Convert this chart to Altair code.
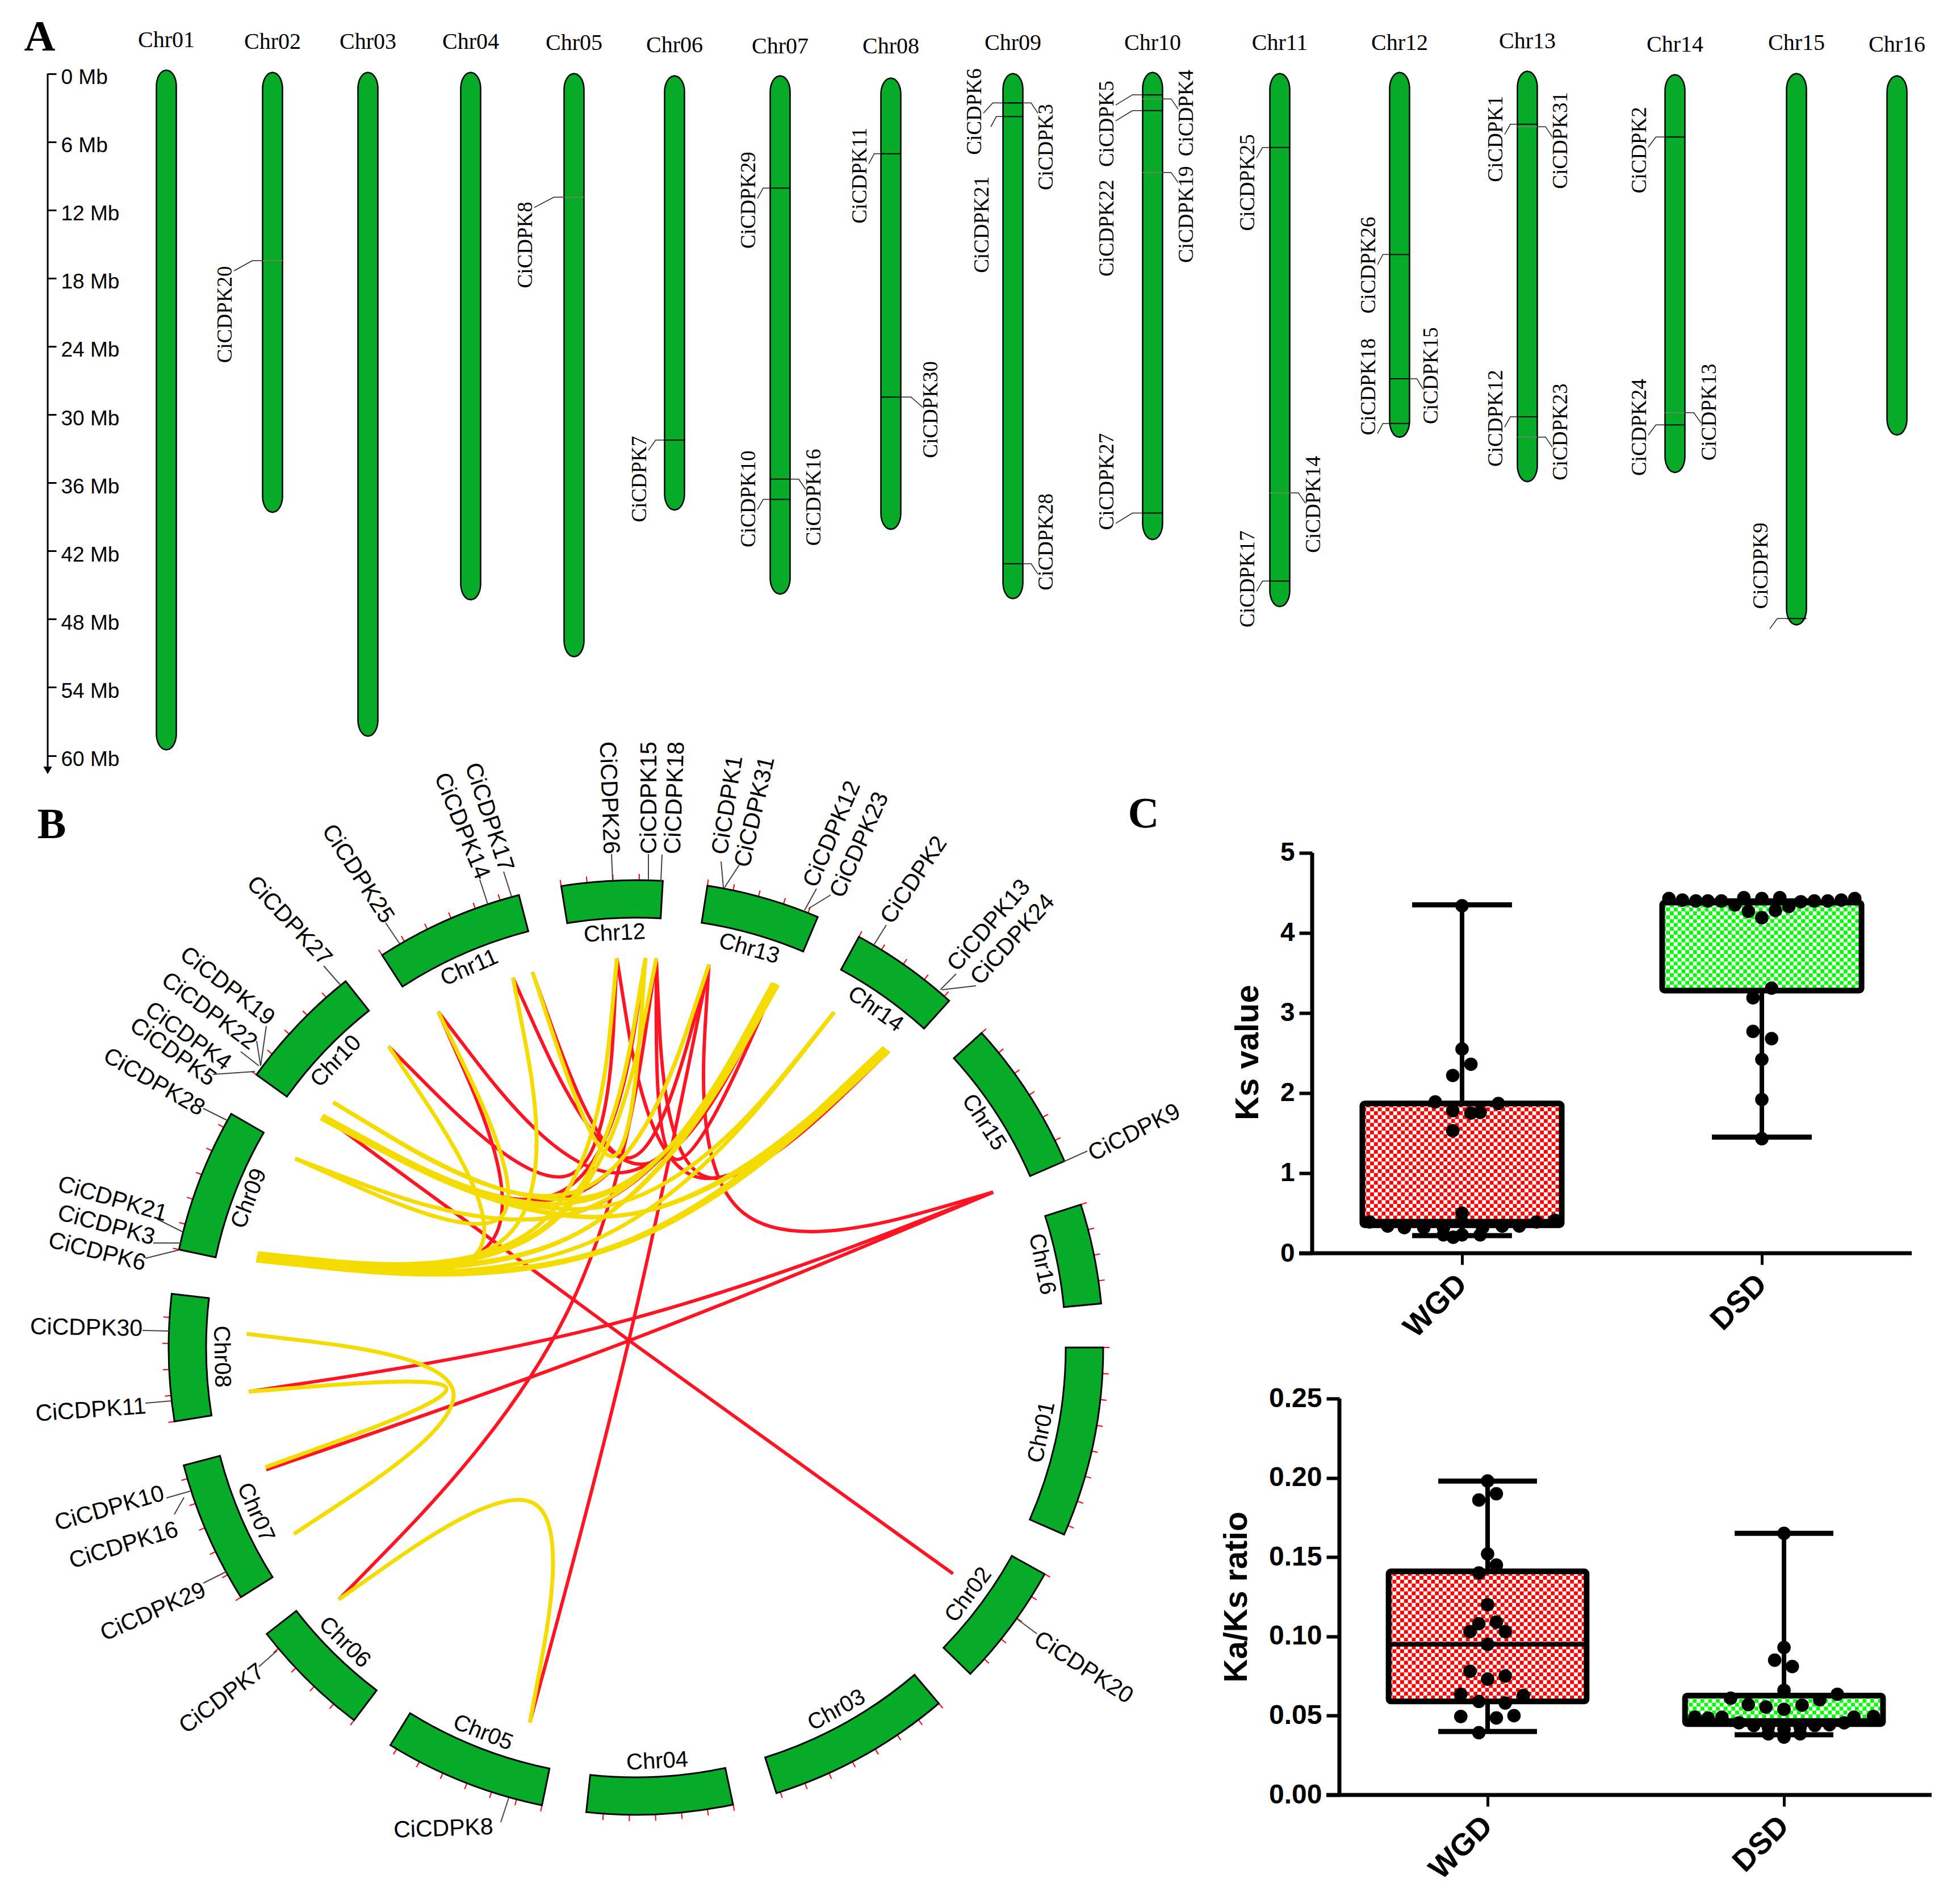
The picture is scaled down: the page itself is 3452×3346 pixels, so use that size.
import math
import numpy as np
import pandas as pd
import altair as alt

GREEN = "#06ab27"
RED = "#ff1424"
YELLOW = "#f5dc00"
SERIF = "Liberation Serif"
SANS = "Liberation Sans"

# ---------- Panel A: chromosome map ----------
CHROMS = ["Chr%02d" % i for i in range(1, 17)]
CHR_POS = [293, 480, 648, 829, 1011, 1188, 1374, 1569, 1784, 2030, 2254, 2465, 2690, 2950, 3164, 3341]
CHR_TOP = [-0.3, -0.1, -0.1, -0.1, 0, 0.2, 0.2, 0.4, 0, -0.1, 0, -0.1, -0.2, 0.1, 0, 0.2]
CHR_END = [59.5, 38.6, 58.3, 46.3, 51.3, 38.4, 45.8, 40.1, 46.2, 41.0, 46.9, 32.0, 35.9, 35.1, 48.5, 31.8]
CHR_LAB = [-2.9, -2.77, -2.77, -2.77, -2.68, -2.45, -2.36, -2.36, -2.68, -2.68, -2.68, -2.68, -2.8, -2.54, -2.68, -2.54]
MB_TICKS = [0, 6, 12, 18, 24, 30, 36, 42, 48, 54, 60]
CAP_STEPS = [0, 0.05, 0.12, 0.22, 0.35, 0.5, 0.68, 0.85, 1.0]
CAP_LENGTH = 1.4
CHR_HALF = 17.5

# gene, chromosome index, tick Mb, label position, label Mb
GENES_A = [
    ("CiCDPK20", 1, 16.46, 397, 21.2), ("CiCDPK8", 4, 10.88, 926, 15.08),
    ("CiCDPK29", 6, 10.08, 1319, 11.15), ("CiCDPK11", 7, 7.05, 1515, 8.97),
    ("CiCDPK30", 7, 28.46, 1640, 29.57), ("CiCDPK7", 5, 32.25, 1127, 35.68),
    ("CiCDPK10", 6, 37.47, 1319, 37.42), ("CiCDPK16", 6, 35.68, 1434, 37.29),
    ("CiCDPK6", 8, 2.59, 1717, 3.35), ("CiCDPK3", 8, 2.59, 1843, 6.47),
    ("CiCDPK21", 8, 3.79, 1730, 13.29), ("CiCDPK28", 8, 43.13, 1843, 41.21),
    ("CiCDPK5", 9, 1.87, 1950, 4.42), ("CiCDPK4", 9, 2.23, 2090, 3.48),
    ("CiCDPK22", 9, 3.26, 1950, 13.6), ("CiCDPK19", 9, 8.70, 2090, 12.4),
    ("CiCDPK27", 9, 38.67, 1950, 35.9), ("CiCDPK25", 10, 6.51, 2198, 9.59),
    ("CiCDPK14", 10, 36.89, 2314, 37.91), ("CiCDPK17", 10, 44.65, 2198, 44.47),
    ("CiCDPK26", 11, 15.92, 2411, 16.86), ("CiCDPK15", 11, 26.85, 2521, 26.58),
    ("CiCDPK18", 11, 30.78, 2411, 27.56), ("CiCDPK1", 12, 4.46, 2635, 5.75),
    ("CiCDPK31", 12, 4.68, 2749, 5.89), ("CiCDPK12", 12, 30.2, 2635, 30.33),
    ("CiCDPK23", 12, 31.98, 2749, 31.53), ("CiCDPK2", 13, 5.58, 2888, 6.74),
    ("CiCDPK24", 13, 30.91, 2888, 31.13), ("CiCDPK13", 13, 29.84, 3011, 29.79),
    ("CiCDPK9", 14, 47.95, 3102, 43.31),
]
FAINT_TICKS = ["CiCDPK20", "CiCDPK8", "CiCDPK19", "CiCDPK14", "CiCDPK4", "CiCDPK31", "CiCDPK13", "CiCDPK23"]

SXA = alt.Scale(domain=[8, 3444], nice=False, zero=False)
SYA = alt.Scale(domain=[-6.07, 63.47], nice=False, zero=False, reverse=True)
AX_A = alt.Axis(orient="right", offset=-3360, values=MB_TICKS, labelExpr="datum.value + ' Mb'",
                domain=False, grid=False, tickSize=15, tickColor="black", tickWidth=3,
                labelFontSize=37, labelFont=SANS, labelColor="black", labelPadding=8,
                labelOffset=7, title=None)
XA = alt.X("x:Q", axis=None, scale=SXA)
YA = alt.Y("y:Q", scale=SYA, axis=AX_A)

chr_df = pd.DataFrame({"x": CHR_POS, "y": CHR_TOP, "y2": CHR_END, "lab": CHR_LAB, "name": CHROMS})
outline_rows = []
for name, pos, top, end in zip(CHROMS, CHR_POS, CHR_TOP, CHR_END):
    for s in CAP_STEPS:
        half = CHR_HALF * math.sqrt(1 - (1 - s) ** 2)
        outline_rows.append({"name": name, "x": pos - half, "x2": pos + half, "y": top + s * CAP_LENGTH})
    for s in reversed(CAP_STEPS):
        half = CHR_HALF * math.sqrt(1 - (1 - s) ** 2)
        outline_rows.append({"name": name, "x": pos - half, "x2": pos + half, "y": end - s * CAP_LENGTH})
a_bars = alt.Chart(pd.DataFrame(outline_rows)).mark_area(
    orient="horizontal", fill=GREEN, stroke="black", strokeWidth=2.5, opacity=1).encode(
    x=XA, x2="x2:Q", y=YA, detail="name:N")
a_names = alt.Chart(chr_df).mark_text(font=SERIF, fontSize=40, color="black").encode(
    x=XA, y=alt.Y("lab:Q", axis=AX_A, scale=SYA), text="name:N")

ticks_a, leaders_a, labels_a = [], [], []
for i, (g, c, mb, lx, ly) in enumerate(GENES_A):
    cx = CHR_POS[c]
    side = -1 if lx < cx else 1
    edge = cx + side * 17.5
    ticks_a.append({"x": cx - 17.5, "x2": cx + 17.5, "y": mb, "c": "#5d8f62" if g in FAINT_TICKS else "#000000"})
    labels_a.append({"x": lx, "y": ly, "g": g})
    lab_edge = lx - side * 15
    elbow = edge + side * max(min(abs(lab_edge - edge) * 0.55, 18), 4)
    for k, (px, py) in enumerate([(edge, mb), (elbow, mb), (lab_edge, mb + 0.9)]):
        leaders_a.append({"x": px, "y": py, "id": i, "k": k})
a_ticks = alt.Chart(pd.DataFrame(ticks_a)).mark_rule(strokeWidth=2).encode(
    x=XA, x2="x2:Q", y=YA, color=alt.Color("c:N", scale=None))
a_leaders = alt.Chart(pd.DataFrame(leaders_a)).mark_line(color="#222222", strokeWidth=1.5).encode(
    x=XA, y=YA, detail="id:N", order="k:Q")
a_labels = alt.Chart(pd.DataFrame(labels_a)).mark_text(font=SERIF, fontSize=37, angle=270, color="black").encode(
    x=XA, y=YA, text="g:N")
a_axis = alt.Chart(pd.DataFrame({"x": [84], "y": [0], "y2": [61]})).mark_rule(color="black", strokeWidth=3).encode(
    x=XA, y=YA, y2="y2:Q")
a_arrow = alt.Chart(pd.DataFrame({"x": [84], "y": [61.3]})).mark_point(
    shape="triangle-down", filled=True, color="black", size=230, opacity=1).encode(x=XA, y=YA)
a_letter = alt.Chart(pd.DataFrame({"x": [70], "y": [-3.15], "t": ["A"]})).mark_text(
    font=SERIF, fontSize=76, fontWeight="bold", color="black").encode(x=XA, y=YA, text="t:N")

panel_a = alt.layer(a_bars, a_ticks, a_leaders, a_labels, a_names, a_axis, a_arrow, a_letter).properties(
    width=3436, height=1392)

# ---------- Panel B: circular map ----------
SECT_START = [90, 119, 139.6, 168, 191.6, 217.1, 237.7, 260.9, 282.1, 305.7, 327.1, 350.8, 8.8, 28.5, 47.7, 72.2]
SECT_END = [113.6, 134.3, 162.5, 186.1, 211.7, 232.2, 255.4, 276.6, 300, 321.6, 345.5, 363.3, 22.9, 42.1, 66.5, 84.6]
R_OUT, R_IN, R_TICK, R_LAB, R_LINK = 823, 757, 834, 730, 686
TICK_STEP = 3.2

# gene, label dx, label dy, rotation, leader start dx/dy, leader end dx/dy (from the centre of the circle)
GENES_B = [
    ("CiCDPK26", -48, -968, 88, -43, -869, -41, -823), ("CiCDPK17", -259, -934, 72, -233, -838, -219, -794),
    ("CiCDPK14", -307, -918, 68, -275, -824, -261, -781), ("CiCDPK25", -490, -834, 57, -441, -748, -416, -711),
    ("CiCDPK27", -611, -751, 47, -550, -672, -520, -638), ("CiCDPK19", -720, -636, 38, -651, -566, -661, -496),
    ("CiCDPK22", -752, -592, 37, -668, -540, -661, -496), ("CiCDPK4", -789, -548, 36, -696, -521, -664, -496),
    ("CiCDPK5", -816, -520, 36, -745, -481, -671, -486), ("CiCDPK28", -849, -467, 30, -762, -421, -720, -400),
    ("CiCDPK21", -922, -261, 16, -843, -226, -799, -204), ("CiCDPK3", -933, -215, 15, -850, -184, -801, -184),
    ("CiCDPK6", -949, -168, 14, -864, -157, -804, -172), ("CiCDPK15", 24, -968, 270, 22, -869, 22, -823),
    ("CiCDPK18", 69, -968, 272, 46, -868, 44, -821), ("CiCDPK1", 162, -955, 279, 150, -856, 154, -810),
    ("CiCDPK31", 210, -943, 283, 182, -850, 156, -810), ("CiCDPK12", 346, -904, 293, 318, -808, 297, -770),
    ("CiCDPK23", 394, -885, 294, 343, -797, 304, -773), ("CiCDPK2", 490, -823, 304, 441, -744, 419, -709),
    ("CiCDPK13", 622, -743, 311, 564, -658, 536, -630), ("CiCDPK24", 664, -718, 312, 599, -637, 539, -630),
    ("CiCDPK9", 878, -378, 333, 795, -346, 753, -327), ("CiCDPK30", -968, -34, 1, -869, -30, -822, -29),
    ("CiCDPK11", -960, 111, 356, -864, 98, -818, 94), ("CiCDPK10", -927, 284, 344, -827, 265, -785, 253),
    ("CiCDPK16", -902, 349, 343, -813, 294, -796, 264), ("CiCDPK29", -850, 466, 336, -762, 415, -720, 394),
    ("CiCDPK7", -729, 619, 323, -664, 562, -632, 534), ("CiCDPK8", -339, 848, 358, -238, 836, -224, 793),
    ("CiCDPK20", 788, 564, 33, 706, 504, 671, 478),
]

# link ends as angles on the circle (clockwise from the top)
RED_LINKS = [
    (125.5, 306.5), (66.5, 263.5), (66.5, 251.7), (66.5, 10.8), (195.8, 10.8), (229.7, 3.0), (329.5, 283.3),
    (320.6, 357.2), (299, 21), (344.6, 10.8), (357.2, 40.5), (3.0, 40.5), (21, 283.3), (21, 329.5), (21, 341.6),
    (1.4, 306.5), (3.0, 21), (1.4, 283.3), (10.8, 306.5), (40.5, 306.5),
]
YELLOW_LINKS = [
    (241.4, 272), (252.1, 263.5), (229.7, 195.8), (329.5, 299), (320.6, 283.3), (341.6, 283.3), (344.6, 1.4),
    (306.5, 40.5), (306.0, 40.0), (306.5, 21), (309, 21), (309, 10.8), (306.5, 30.6), (283.3, 40.5), (282.9, 40.0),
    (283.6, 39.6), (283.3, 21), (283.9, 21.4), (282.9, 30.6), (283.3, 1.4), (283.3, 3.0), (284.0, 357.2),
    (299, 20.6),
]


def pol(a, r):
    t = math.radians(a)
    return r * math.sin(t), -r * math.cos(t)


def link_rows(links):
    rows = []
    for i, (a0, a1) in enumerate(links):
        x0, y0 = pol(a0, R_LINK)
        x1, y1 = pol(a1, R_LINK)
        pts = [(x0, y0), ((x0 + x1) / 8, (y0 + y1) / 8), (x1, y1)]
        for k, (x, y) in enumerate(pts):
            rows.append({"x": x, "y": y, "id": i, "k": k})
    return pd.DataFrame(rows)


SXB = alt.Scale(domain=[-1112, 1191], nice=False, zero=False)
SYB = alt.Scale(domain=[-973, 965], nice=False, zero=False, reverse=True)
XB = alt.X("x:Q", axis=None, scale=SXB)
YB = alt.Y("y:Q", axis=None, scale=SYB)

sect_df = pd.DataFrame({
    "t0": [math.radians(a) for a in SECT_START], "t1": [math.radians(a) for a in SECT_END],
    "r0": [R_OUT] * 16, "r1": [R_IN] * 16,
})
b_arcs = alt.Chart(sect_df).mark_arc(fill=GREEN, stroke="black", strokeWidth=3).encode(
    theta=alt.Theta("t0:Q", scale=None), theta2=alt.Theta2("t1:Q"),
    radius=alt.Radius("r0:Q", scale=None), radius2=alt.Radius2("r1:Q"),
    x=alt.value(1112), y=alt.value(973))

tick_rows, name_rows = [], []
for name, a0, a1 in zip(CHROMS, SECT_START, SECT_END):
    a = a0
    while a <= a1 + 0.01:
        x0, y0 = pol(a, R_OUT)
        x1, y1 = pol(a, R_TICK)
        tick_rows.append({"x": x0, "y": y0, "x2": x1, "y2": y1})
        a += TICK_STEP
    mid = ((a0 + a1) / 2) % 360
    x, y = pol(mid, R_LAB)
    rot = (mid - 180) % 360 if 90 < mid <= 270 else mid
    name_rows.append({"x": x, "y": y, "rot": rot, "name": name})
b_ticks = alt.Chart(pd.DataFrame(tick_rows)).mark_rule(color="#ff0000", strokeWidth=2).encode(
    x=XB, y=YB, x2="x2:Q", y2="y2:Q")
b_names = alt.Chart(pd.DataFrame(name_rows)).mark_text(font=SANS, fontSize=40, color="black").encode(
    x=XB, y=YB, text="name:N", angle=alt.Angle("rot:Q", scale=None))

gene_df = pd.DataFrame(GENES_B, columns=["g", "x", "y", "rot", "x1", "y1", "x2", "y2"])
b_leaders = alt.Chart(gene_df).mark_rule(color="#444444", strokeWidth=2).encode(
    x=alt.X("x1:Q", axis=None, scale=SXB), y=alt.Y("y1:Q", axis=None, scale=SYB), x2="x2:Q", y2="y2:Q")
b_genes = alt.Chart(gene_df).mark_text(font=SANS, fontSize=41, color="black").encode(
    x=XB, y=YB, text="g:N", angle=alt.Angle("rot:Q", scale=None))

b_red = alt.Chart(link_rows(RED_LINKS)).mark_line(color=RED, strokeWidth=6, interpolate="basis").encode(
    x=XB, y=YB, detail="id:N", order="k:Q")
b_yellow = alt.Chart(link_rows(YELLOW_LINKS)).mark_line(color=YELLOW, strokeWidth=7, interpolate="basis").encode(
    x=XB, y=YB, detail="id:N", order="k:Q")
b_letters = alt.Chart(pd.DataFrame({"x": [-1029, 894], "y": [-920, -939], "t": ["B", "C"]})).mark_text(
    font=SERIF, fontSize=76, fontWeight="bold", color="black").encode(x=XB, y=YB, text="t:N")

panel_b = alt.layer(b_red, b_yellow, b_ticks, b_arcs, b_names, b_leaders, b_genes, b_letters).properties(
    width=2303, height=1938)

# ---------- Panel C: box plots ----------
GROUP_POS = [1, 3]
LABEL_EXPR = "datum.value == 1 ? 'WGD' : 'DSD'"

KS_BOX = {"q1": [0.35, 3.28], "med": [0.40, 4.38], "q3": [1.87, 4.38], "lo": [0.22, 1.45], "hi": [4.35, 4.40]}
KS_WGD_OFF = [0, 0, 0.059, -0.062, -0.179, 0.242, -0.062, 0.059, 0.121, -0.062, 0,
              -0.617, -0.496, -0.385, -0.255, -0.124, 0, 0.137, 0.268, 0.382, 0.496, 0.620,
              -0.059, -0.124, 0, 0.121]
KS_WGD_VAL = [4.34, 2.55, 2.36, 2.22, 1.89, 1.87, 1.78, 1.75, 1.76, 1.53, 0.5,
              0.39, 0.34, 0.32, 0.32, 0.32, 0.39, 0.32, 0.34, 0.34, 0.39, 0.41,
              0.2, 0.23, 0.23, 0.23]
KS_DSD_OFF = [-0.62, -0.53, -0.44, -0.36, -0.27, -0.18, -0.12, -0.09, 0, 0.09, 0.12, 0.18, 0.26, 0.35, 0.44, 0.53,
              0.62, 0, 0.065, -0.059, -0.059, 0.065, 0, 0, 0]
KS_DSD_VAL = [4.43, 4.41, 4.40, 4.40, 4.40, 4.35, 4.44, 4.27, 4.43, 4.28, 4.44, 4.33, 4.39, 4.40, 4.40, 4.41,
              4.43, 4.19, 3.31, 3.19, 2.77, 2.68, 2.42, 1.92, 1.43]

KAKS_BOX = {"q1": [0.059, 0.0447], "med": [0.095, 0.047], "q3": [0.141, 0.0627], "lo": [0.040, 0.038],
            "hi": [0.198, 0.165]}
KAKS_WGD_OFF = [0, 0.059, -0.059, 0, 0.059, -0.059, 0, -0.059, 0.059, -0.119, 0.119, 0, -0.119, 0.119, 0,
                -0.181, 0.241, -0.059, 0.119, -0.181, 0.178, 0.059, -0.059]
KAKS_WGD_VAL = [0.198, 0.190, 0.186, 0.152, 0.145, 0.140, 0.120, 0.108, 0.109, 0.103, 0.103, 0.095, 0.078, 0.075,
                0.073, 0.0635, 0.0627, 0.059, 0.058, 0.0495, 0.050, 0.0486, 0.0393]
KAKS_DSD_OFF = [0, 0, -0.063, 0.056, 0, -0.360, 0.360, 0.241, -0.241, -0.122, 0, 0.122,
                -0.601, -0.512, -0.419, 0.472, 0.604, -0.304, -0.204, -0.106, 0, 0.109, 0.208, 0.307, 0.406,
                -0.106, 0, 0.109]
KAKS_DSD_VAL = [0.165, 0.093, 0.085, 0.081, 0.066, 0.061, 0.0635, 0.060, 0.057, 0.0555, 0.054, 0.0566,
                0.049, 0.0485, 0.049, 0.049, 0.0495, 0.0455, 0.0438, 0.0428, 0.0415, 0.0428, 0.0438, 0.0443, 0.0455,
                0.0385, 0.0365, 0.0385]

FILL_COLORS = ["#ff0000", "#00ff00"]


def box_panel(box, dots, ydom, yvals, fmt, xdom, w, h, half, yaxis_offset, y_per_px, title_kw, fontsize,
              yfull, base):
    x_scale = alt.Scale(domain=xdom, nice=False, zero=False)
    y_scale = alt.Scale(domain=ydom, nice=False, zero=False)
    x_axis = alt.Axis(orient="bottom", values=GROUP_POS, labelExpr=LABEL_EXPR, domain=False, grid=False,
                      tickSize=20, tickWidth=5, tickColor="black", labelAngle=315, labelAlign="right",
                      labelBaseline="middle", labelFont=SANS, labelFontWeight="bold", labelFontSize=54,
                      labelColor="black", labelPadding=26, title=None)
    y_axis = alt.Axis(orient="left", offset=yaxis_offset, values=yvals, format=fmt, domain=False, grid=False,
                      tickSize=23, tickWidth=6, tickColor="black", labelFont=SANS, labelFontWeight="bold",
                      labelFontSize=fontsize, labelColor="black", labelPadding=8, titleFont=SANS,
                      titleFontWeight="bold", titleColor="black", **title_kw)

    def XF(f):
        return alt.X(f + ":Q", scale=x_scale, axis=x_axis)

    def YF(f):
        return alt.Y(f + ":Q", scale=y_scale, axis=y_axis)

    layers = []
    cell = 6.8
    for g, (pos, col) in enumerate(zip(GROUP_POS, FILL_COLORS)):
        rows = np.arange(box["q1"][g], box["q3"][g], cell * y_per_px)
        for odd, off in ((0, 0), (1, cell)):
            d = pd.DataFrame({"x": pos - half, "x2": pos + half, "y": rows[odd::2]})
            layers.append(alt.Chart(d).mark_rule(color=col, strokeWidth=cell, strokeDash=[cell, cell],
                                                 strokeDashOffset=off).encode(x=XF("x"), x2="x2:Q", y=YF("y")))
    bdf = pd.DataFrame(box)
    bdf["x"] = [p - half for p in GROUP_POS]
    bdf["x2"] = [p + half for p in GROUP_POS]
    bdf["c"] = GROUP_POS
    bdf["cl"] = [p - 0.333 for p in GROUP_POS]
    bdf["cr"] = [p + 0.333 for p in GROUP_POS]
    layers.append(alt.Chart(bdf).mark_rule(color="black", strokeWidth=8).encode(x=XF("c"), y=YF("hi"), y2="q3:Q"))
    layers.append(alt.Chart(bdf).mark_rule(color="black", strokeWidth=8).encode(x=XF("c"), y=YF("lo"), y2="q1:Q"))
    for col in ("hi", "lo"):
        layers.append(alt.Chart(bdf).mark_rule(color="black", strokeWidth=9).encode(
            x=XF("cl"), x2="cr:Q", y=YF(col)))
    layers.append(alt.Chart(bdf).mark_rect(fillOpacity=0, stroke="black", strokeWidth=10, cornerRadius=4).encode(
        x=XF("x"), x2="x2:Q", y=YF("q1"), y2="q3:Q"))
    layers.append(alt.Chart(bdf).mark_rule(color="black", strokeWidth=8).encode(x=XF("x"), x2="x2:Q", y=YF("med")))
    dot_rows = []
    for pos, (off, val) in zip(GROUP_POS, dots):
        dot_rows += [{"x": pos + o, "y": v} for o, v in zip(off, val)]
    layers.append(alt.Chart(pd.DataFrame(dot_rows)).mark_circle(color="black", opacity=1, size=560).encode(
        x=XF("x"), y=YF("y")))
    axes = pd.DataFrame({"x": [base[0]], "x2": [base[1]], "y": [0.0], "ax": [base[2]], "y1": [0.0], "y2": [yfull]})
    layers.append(alt.Chart(axes).mark_rule(color="black", strokeWidth=7).encode(x=XF("x"), x2="x2:Q", y=YF("y")))
    layers.append(alt.Chart(axes).mark_rule(color="black", strokeWidth=7).encode(x=XF("ax"), y=YF("y1"), y2="y2:Q"))
    return alt.layer(*layers).properties(width=w, height=h)


c1 = box_panel(KS_BOX, [(KS_WGD_OFF, KS_WGD_VAL), (KS_DSD_OFF, KS_DSD_VAL)], [0, 5.723], [0, 1, 2, 3, 4, 5], "d",
               [0, 4.1326], 1091, 807, 0.665, 0, 1 / 141,
               dict(title="Ks value", titleFontSize=58, titleX=-84, titleY=453, titleAngle=270), 46,
               5, (-0.087, 4.0, 0))
c2 = box_panel(KAKS_BOX, [(KAKS_WGD_OFF, KAKS_WGD_VAL), (KAKS_DSD_OFF, KAKS_DSD_VAL)], [0, 0.25],
               [0, 0.05, 0.10, 0.15, 0.20, 0.25], ".2f",
               [-0.1839, 3.996], 1091, 698, 0.668, -48, 1 / 2792,
               dict(title="Ka/Ks ratio", titleFontSize=57, titleX=-152, titleY=349, titleAngle=270), 48,
               0.25, (-0.088, 3.996, 0))

column_c = alt.vconcat(c1, c2, spacing=256, bounds="flush")
lower = alt.hconcat(panel_b, column_c, spacing=0, bounds="flush")
chart = alt.vconcat(panel_a, lower, spacing=0, bounds="flush").properties(padding=0).configure_view(stroke=None)

chart.save("out.html", embed_options={"renderer": "svg", "actions": False})
